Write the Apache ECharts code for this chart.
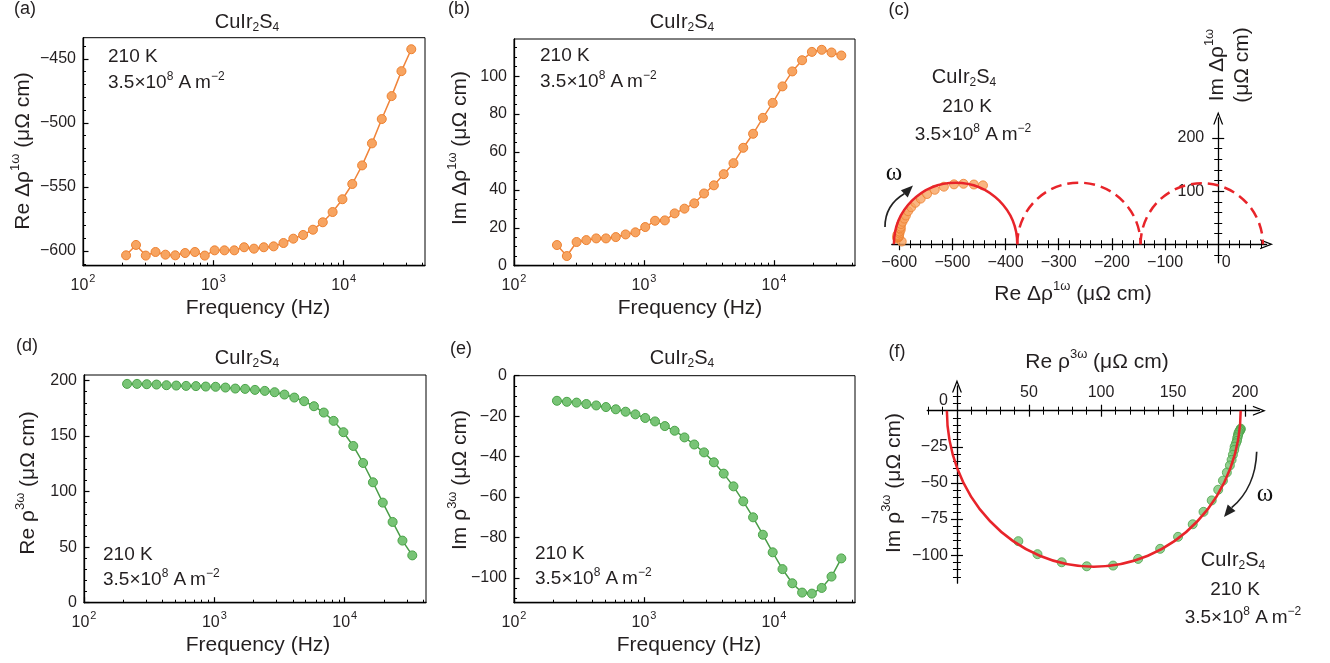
<!DOCTYPE html>
<html>
<head>
<meta charset="utf-8">
<script src="https://cdn.jsdelivr.net/npm/echarts@6/dist/echarts.min.js"></script>
<style>
html,body{margin:0;padding:0;background:#fff;}
#chart{width:1330px;height:663px;}
</style>
</head>
<body>
<div id="chart"></div>
<script>
// ---------------- data ----------------
const freqHz = [214,255,303,360,429,510,607,722,859,1022,1216,1447,1721,2048,2436,2898,3448,4103,4880,5804,6906,8214,9772,11625,13830,16455,19574,23290,27705,32960];
const reDrho1w = [-603.4,-595.3,-603.6,-600.8,-602.9,-603.4,-601.6,-600.8,-603.6,-599.5,-599.5,-599.5,-597.1,-598.2,-597.1,-596.4,-593.8,-590.4,-587.5,-583.4,-577.6,-569.6,-559.6,-547.7,-533.2,-516.0,-497.0,-479.1,-459.6,-442.5];
const imDrho1w = [10.9,5.1,12.5,13.5,14.4,14.4,15.1,16.5,17.6,20.4,23.7,23.9,27.6,30.1,32.9,38.1,42.4,48.3,54.1,62.2,69.6,78.0,85.9,94.6,102.5,108.4,112.8,113.9,112.5,110.9];
const reRho3w = [197.0,197.0,196.7,196.4,195.8,195.5,195.2,195.0,194.6,194.4,193.7,192.8,192.5,191.6,190.7,189.5,187.4,184.7,181.4,176.9,171.2,163.7,153.5,141.1,125.8,108.4,90.1,72.7,55.9,42.6];
const imRho3w = [-12.4,-12.9,-13.3,-14.0,-14.7,-15.5,-16.6,-17.8,-19.1,-20.9,-22.6,-24.9,-27.2,-30.5,-34.0,-37.9,-42.8,-48.4,-54.7,-62.1,-70.0,-78.6,-87.3,-95.6,-102.6,-107.2,-107.7,-104.9,-99.3,-90.3];

// semicircle fits: centres on the real axis and radii
const fit1wCentres = [-494, -262, -31];
const fit1wRadii   = [116, 116, 115];
const fit3wCentre = [95];
const fit3wRadiusRe = [102];
const fit3wRadiusIm = [108];

// tick labels
const freqMinorTicks = [200,300,400,500,600,700,800,900,2000,3000,4000,5000,6000,7000,8000,9000,20000,30000,40000];
const ticksA = [-600,-550,-500,-450];
const ticksB = [0,20,40,60,80,100];
const ticksD = [0,50,100,150,200];
const ticksE = [0,-20,-40,-60,-80,-100];
const ticksCx = [-600,-500,-400,-300,-200,-100];
const labelsCx = [-600,-500,-400,-300,-200,-100,0];
const ticksCy = [100,200];
const ticksFx = [50,100,150,200];
const ticksFy = [-25,-50,-75,-100];
const labelsFy = [0,-25,-50,-75,-100];

// texts
const compound = 'CuIr{sub|2}S{sub|4}';
const tempText = '210 K';
const currentText = '3.5×10{sup|8} A\u2009m{sup|−2}';
const freqTitle = 'Frequency (Hz)';
const titleA = 'Re Δρ{sup|1ω} (μΩ cm)';
const titleB = 'Im Δρ{sup|1ω} (μΩ cm)';
const titleD = 'Re ρ{sup|3ω} (μΩ cm)';
const titleE = 'Im ρ{sup|3ω} (μΩ cm)';

// ---------------- styles ----------------
const FONT = "'Liberation Sans', Arial, Helvetica, sans-serif";
const INK = '#231f20';
const ORANGE = {fill:'#f7a461', edge:'#ee8130', line:'#f0843a'};
const GREEN = {fill:'#78c476', edge:'#4aa348', line:'#4a9d48'};
const RED = '#e8242a';
const LOG_MIN = 100, LOG_MAX = 42000;
const MARK = 9;

function steps(from, to, step, skip) {
  const out = [];
  for (let v = from; step > 0 ? v <= to + 1e-9 : v >= to - 1e-9; v += step) {
    const r = Math.round(v * 1000) / 1000;
    if (!skip.includes(r)) out.push(r);
  }
  return out;
}
const fmtNum = v => String(v).replace('-', '\u2212');
const labelBase = {color: INK, fontSize: 16, fontFamily: FONT};

const grids = [], xAxes = [], yAxes = [], series = [], graphics = [];

function logPanel(grid, yMin, yMax, yMajors, yMinors, values, col) {
  const g = grids.length; grids.push(Object.assign({show:true, borderColor:'#000', borderWidth:1, outerBoundsMode:'none', containLabel:false}, grid));
  const xi = xAxes.length, yi = yAxes.length;
  xAxes.push({type:'log', logBase:10, gridIndex:g, min:LOG_MIN, max:LOG_MAX, position:'bottom',
    axisLine:{onZero:false, lineStyle:{color:'#000', width:1.3}},
    axisTick:{inside:true, length:5.5, lineStyle:{color:'#000', width:1.2}},
    axisLabel:Object.assign({}, labelBase, {margin:8, showMaxLabel:false, showMinLabel:true,
      formatter: v => '10{sup|' + Math.round(Math.log10(v)) + '}',
      rich:{sup:{fontSize:11, color:INK, fontFamily:FONT, padding:[0,0,12,1]}}}),
    splitLine:{show:false}, minorTick:{show:false}, minorSplitLine:{show:false}});
  xAxes.push({type:'value', gridIndex:g, min:Math.log10(LOG_MIN), max:Math.log10(LOG_MAX), position:'bottom',
    axisLine:{show:false, onZero:false},
    axisTick:{inside:true, length:3, customValues:freqMinorTicks.map(Math.log10), lineStyle:{color:'#000', width:1}},
    axisLabel:{show:false}, splitLine:{show:false}});
  yAxes.push({type:'value', gridIndex:g, min:yMin, max:yMax, position:'left',
    axisLine:{onZero:false, lineStyle:{color:'#000', width:1.3}},
    axisTick:{inside:true, length:5.5, customValues:yMajors, lineStyle:{color:'#000', width:1.2}},
    axisLabel:Object.assign({}, labelBase, {margin:7, customValues:yMajors, formatter:fmtNum}),
    splitLine:{show:false}});
  yAxes.push({type:'value', gridIndex:g, min:yMin, max:yMax, position:'left',
    axisLine:{show:false, onZero:false},
    axisTick:{inside:true, length:3, customValues:yMinors, lineStyle:{color:'#000', width:1}},
    axisLabel:{show:false}, splitLine:{show:false}});
  series.push({type:'line', xAxisIndex:xi, yAxisIndex:yi, data:freqHz.map((f,i)=>[f, values[i]]),
    symbol:'circle', symbolSize:MARK, z:3,
    lineStyle:{color:col.line, width:1.5},
    itemStyle:{color:col.fill, borderColor:col.edge, borderWidth:1}});
}

const ARROW = 'path://M5,0 L10,13 L8.7,13 L5,3.4 L1.3,13 L0,13 Z';
function crossSet(list, g, min, max, spec, onZeroIdx, labelOffset) {
  const base = {type:'value', gridIndex:g, min:min, max:max, position:spec.position, splitLine:{show:false}, minorTick:{show:false}};
  const ghost = {show:true, onZero:true, onZeroAxisIndex:onZeroIdx, lineStyle:{color:'#000', width:1, opacity:0}};
  const tk = (inside, len, vals, w) => ({inside:inside, length:len, customValues:vals, lineStyle:{color:'#000', width:w}});
  list.push(Object.assign({}, base, {
    axisLine:{show:true, onZero:true, onZeroAxisIndex:onZeroIdx, symbol:['none', ARROW], symbolSize:[10,13], lineStyle:{color:'#000', width:1.3}},
    axisTick:tk(false, 6, spec.majors, 1.2), axisLabel:{show:false}}));
  list.push(Object.assign({}, base, {axisLine:ghost, axisTick:tk(true, 6, spec.majors, 1.2), axisLabel:{show:false}}));
  list.push(Object.assign({}, base, {axisLine:ghost, axisTick:tk(false, 4, spec.minors, 1), axisLabel:{show:false}}));
  list.push(Object.assign({}, base, {axisLine:ghost, axisTick:tk(true, 4, spec.minors, 1), axisLabel:{show:false}}));
  // label-only axis, shifted from the grid edge onto the zero line
  list.push(Object.assign({}, base, {offset:labelOffset, axisLine:{show:false, onZero:false}, axisTick:{show:false},
    axisLabel:Object.assign({}, labelBase, {margin:spec.margin, customValues:spec.labels, formatter:spec.formatter, rich:spec.rich || {}})}));
}
function crossPanel(grid, xr, yr, xs, ys) {
  const g = grids.length; grids.push(Object.assign({show:false, outerBoundsMode:'none', containLabel:false}, grid));
  const xi = xAxes.length, yi = yAxes.length;
  const yFracFromBottom = (0 - yr[0]) / (yr[1] - yr[0]);
  const xOff = xs.position === 'bottom' ? -grid.height * yFracFromBottom : -grid.height * (1 - yFracFromBottom);
  const yOff = -grid.width * (0 - xr[0]) / (xr[1] - xr[0]);
  crossSet(xAxes, g, xr[0], xr[1], xs, yi, xOff);
  crossSet(yAxes, g, yr[0], yr[1], ys, xi, yOff);
  return {xi, yi};
}
function halfEllipse(upper, dash) {
  return function (params, api) {
    const c = api.coord([api.value(0), 0]);
    const s = api.size([api.value(1), api.value(2)]);
    return {type:'arc', originX:c[0], originY:c[1], scaleY:s[1]/s[0],
      shape:{cx:c[0], cy:c[1], r:s[0], startAngle: upper ? Math.PI : 0, endAngle: upper ? 2*Math.PI : Math.PI, clockwise:true},
      style:{stroke:RED, fill:null, lineWidth:2.5, lineDash: dash || null, strokeNoScale:true}};
  };
}

// ---------------- panels ----------------
logPanel({left:83, top:37.7, width:342, height:228}, -611.5, -433.5, ticksA, steps(-610,-440,10,ticksA), reDrho1w, ORANGE);
logPanel({left:514, top:39, width:341, height:226.7}, 0, 119.6, ticksB, steps(5,115,5,ticksB), imDrho1w, ORANGE);

const pc = crossPanel({left:891.8, top:117.9, width:374.8, height:144.9}, [-614, 91], [-35, 238],
  {position:'bottom', majors:ticksCx, minors:steps(-580,80,20,ticksCx.concat([0])), labels:labelsCx, margin:10,
   formatter: v => v === 0 ? '{z|0}' : fmtNum(v), rich:{z:{padding:[0,0,0,16], color:INK, fontSize:16, fontFamily:FONT}}},
  {position:'left', majors:ticksCy, minors:steps(-20,180,20,ticksCy.concat([0])), labels:ticksCy, margin:14, formatter: fmtNum});
series.push({type:'scatter', xAxisIndex:pc.xi, yAxisIndex:pc.yi, z:3, symbolSize:MARK,
  data: reDrho1w.map((r,i)=>[r, imDrho1w[i]]),
  itemStyle:{color:ORANGE.fill, borderColor:ORANGE.edge, borderWidth:1}});
series.push({type:'custom', xAxisIndex:pc.xi, yAxisIndex:pc.yi, z:5, clip:false,
  data: [[fit1wCentres[0], fit1wRadii[0], fit1wRadii[0]]], renderItem: halfEllipse(true, null)});
series.push({type:'custom', xAxisIndex:pc.xi, yAxisIndex:pc.yi, z:5, clip:false,
  data: [1,2].map(i => [fit1wCentres[i], fit1wRadii[i], fit1wRadii[i]]), renderItem: halfEllipse(true, [11,6])});

logPanel({left:84, top:375, width:342, height:227.7}, 0, 205, ticksD, steps(10,200,10,ticksD), reRho3w, GREEN);
logPanel({left:514, top:375.7, width:341, height:227}, -112.2, 0, ticksE, steps(-5,-110,-5,ticksE), imRho3w, GREEN);

const pf = crossPanel({left:927.3, top:386, width:332.1, height:197.2}, [-20.6, 210], [-119.4, 17.1],
  {position:'top', majors:ticksFx, minors:steps(-20,190,10,ticksFx.concat([0])), labels:ticksFx, margin:10, formatter: fmtNum},
  {position:'left', majors:ticksFy, minors:steps(10,-115,-5,ticksFy.concat([0])), labels:labelsFy, margin:9,
   formatter: v => v === 0 ? '{z|0}' : fmtNum(v), rich:{z:{padding:[0,0,20,0], color:INK, fontSize:16, fontFamily:FONT}}});
series.push({type:'scatter', xAxisIndex:pf.xi, yAxisIndex:pf.yi, z:3, symbolSize:MARK,
  data: reRho3w.map((r,i)=>[r, imRho3w[i]]),
  itemStyle:{color:GREEN.fill, borderColor:GREEN.edge, borderWidth:1}});
series.push({type:'custom', xAxisIndex:pf.xi, yAxisIndex:pf.yi, z:5, clip:false,
  data: [[fit3wCentre[0], fit3wRadiusRe[0], fit3wRadiusIm[0]]], renderItem: halfEllipse(false, null)});

// ---------------- annotations ----------------
function richFor(sz) {
  const s = Math.round(sz * 0.62);
  return {sup:{fontSize:s, fill:INK, fontFamily:FONT, padding:[0,0,Math.round(sz*0.7),0]},
          sub:{fontSize:s, fill:INK, fontFamily:FONT, padding:[Math.round(sz*0.55),0,0,0]}};
}
function T(x, y, text, o) {
  o = o || {};
  const sz = o.size || 20;
  graphics.push({type:'text', x:x, y:y, rotation:o.rot || 0, z:20, silent:true,
    style:{text:text, fill:o.color || INK, fontSize:sz, fontFamily:o.family || FONT,
      align:o.align || 'center', verticalAlign:'middle', rich:richFor(sz)}});
}
// panel letters
[['(a)',25,9],['(b)',459,9],['(c)',899,10],['(d)',27,346],['(e)',461,349],['(f)',897,352]]
  .forEach(p => T(p[1], p[2], p[0], {size:18}));
// compound titles
[[247,22],[682,22],[247,358],[682,358]].forEach(p => T(p[0], p[1], compound, {size:20}));
// condition labels
T(108, 57, tempText, {size:19, align:'left'}); T(108, 83, currentText, {size:19, align:'left'});
T(540, 56, tempText, {size:19, align:'left'}); T(540, 82, currentText, {size:19, align:'left'});
T(103, 555, tempText, {size:19, align:'left'}); T(103, 580, currentText, {size:19, align:'left'});
T(535, 554, tempText, {size:19, align:'left'}); T(535, 579, currentText, {size:19, align:'left'});
T(964, 77, compound, {size:20}); T(967, 107, tempText, {size:19}); T(973, 135, currentText, {size:19});
T(1233, 560, compound, {size:20}); T(1235, 590, tempText, {size:19}); T(1243, 618, currentText, {size:19});
// axis titles
T(258, 308, freqTitle, {size:21}); T(690, 308, freqTitle, {size:21});
T(258, 645, freqTitle, {size:21}); T(689, 645, freqTitle, {size:21});
T(23, 151, titleA, {size:21, rot:Math.PI/2});
T(460, 148, titleB, {size:21, rot:Math.PI/2});
T(28, 483, titleD, {size:21, rot:Math.PI/2});
T(460, 480, titleE, {size:21, rot:Math.PI/2});
T(1073, 294, titleA, {size:21});
T(1217, 65, 'Im Δρ{sup|1ω}', {size:21, rot:Math.PI/2});
T(1242, 65, '(μΩ cm)', {size:21, rot:Math.PI/2});
T(1097, 362, titleD, {size:21});
T(894, 483, titleE, {size:21, rot:Math.PI/2});
// ω arrows
T(894, 173, 'ω', {size:25, family:"'Liberation Serif', 'DejaVu Serif', serif", color:'#111'});
T(1265, 494, 'ω', {size:25, family:"'Liberation Serif', 'DejaVu Serif', serif", color:'#111'});
graphics.push({type:'bezierCurve', z:20, silent:true, shape:{x1:885, y1:227, cpx1:885, cpy1:212, cpx2:892, cpy2:201, x2:904.3, y2:193.8}, style:{stroke:'#222', lineWidth:1.7, fill:null}});
graphics.push({type:'polygon', z:20, silent:true, shape:{points:[[913,185.5],[907.7,197.4],[900.9,190.2]]}, style:{fill:'#222'}});
graphics.push({type:'bezierCurve', z:20, silent:true, shape:{x1:1256.7, y1:451.7, cpx1:1256, cpy1:475, cpx2:1247, cpy2:495, x2:1231.6, y2:507.7}, style:{stroke:'#222', lineWidth:1.7, fill:null}});
graphics.push({type:'polygon', z:20, silent:true, shape:{points:[[1224,517],[1235.5,510.9],[1227.7,504.5]]}, style:{fill:'#222'}});

const chart = echarts.init(document.getElementById('chart'), null, {renderer:'canvas'});
chart.setOption({
  animation:false,
  backgroundColor:'#fff',
  grid: grids,
  xAxis: xAxes,
  yAxis: yAxes,
  series: series,
  graphic: {elements: graphics}
});
</script>
</body>
</html>
